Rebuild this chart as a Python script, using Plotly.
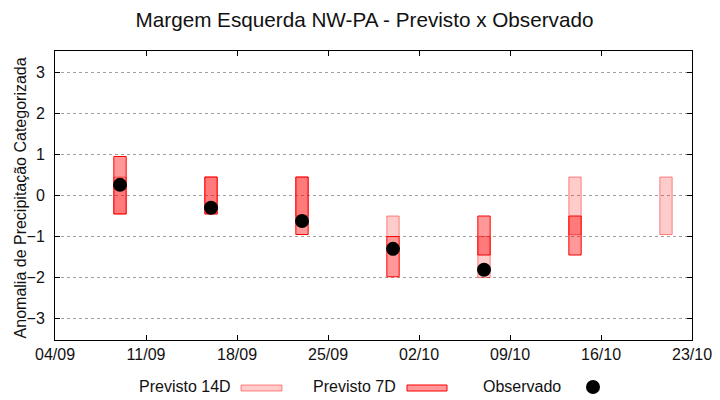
import plotly.graph_objects as go

# ---- data ----
weeks = ["2024-09-09", "2024-09-16", "2024-09-23", "2024-09-30",
         "2024-10-07", "2024-10-14", "2024-10-21"]
prev14_lo = [-0.45, -0.45, -0.50, -1.00, -2.00, -0.95, -0.95]
prev14_hi = [0.45, 0.45, 0.45, -0.50, -1.00, 0.45, 0.45]

prev7_weeks = ["2024-09-09", "2024-09-16", "2024-09-23", "2024-09-30",
               "2024-10-07", "2024-10-14"]
prev7_lo = [-0.45, -0.45, -0.95, -1.98, -1.45, -1.45]
prev7_hi = [0.95, 0.45, 0.45, -1.00, -0.50, -0.50]

obs_weeks = ["2024-09-09", "2024-09-16", "2024-09-23", "2024-09-30", "2024-10-07"]
obs_vals = [0.26, -0.30, -0.62, -1.30, -1.81]

xtick_vals = ["2024-09-04", "2024-09-11", "2024-09-18", "2024-09-25",
              "2024-10-02", "2024-10-09", "2024-10-16", "2024-10-23"]
xtick_text = ["04/09", "11/09", "18/09", "25/09", "02/10", "09/10", "16/10", "23/10"]
ytick_vals = [-3, -2, -1, 0, 1, 2, 3]

DAY_MS = 86400000
FONT = "Liberation Sans, Arial, sans-serif"

fig = go.Figure()

fig.add_trace(go.Bar(
    x=weeks, y=[h - l for h, l in zip(prev14_hi, prev14_lo)], base=prev14_lo,
    width=0.95 * DAY_MS, name="Previsto 14D",
    marker=dict(color="rgba(255,0,0,0.2)", line=dict(color="rgba(255,0,0,0.45)", width=1)),
    showlegend=False,
))
fig.add_trace(go.Bar(
    x=prev7_weeks, y=[h - l for h, l in zip(prev7_hi, prev7_lo)], base=prev7_lo,
    width=0.95 * DAY_MS, name="Previsto 7D",
    marker=dict(color="rgba(255,0,0,0.4)", line=dict(color="rgb(255,0,0)", width=1)),
    showlegend=False,
))
fig.add_trace(go.Scatter(
    x=obs_weeks, y=obs_vals, mode="markers", name="Observado",
    marker=dict(color="black", size=14, line=dict(width=0)),
    showlegend=False,
))

# ---- legend drawn gnuplot-style (text then key) ----
ly = -0.1626
for label, xr in [("Previsto 14D", 0.2800), ("Previsto 7D", 0.5390), ("Observado", 0.7980)]:
    fig.add_annotation(text=label, xref="paper", yref="paper", x=xr, y=ly,
                       xanchor="right", yanchor="middle", showarrow=False,
                       font=dict(family=FONT, size=16, color="#111"))
fig.add_shape(type="rect", xref="paper", yref="paper", x0=0.292, x1=0.3564,
              y0=-0.1765, y1=-0.1557, fillcolor="rgba(255,0,0,0.2)",
              line=dict(color="rgba(255,0,0,0.45)", width=1))
fig.add_shape(type="rect", xref="paper", yref="paper", x0=0.5526, x1=0.6154,
              y0=-0.1765, y1=-0.1557, fillcolor="rgba(255,0,0,0.4)",
              line=dict(color="rgb(255,0,0)", width=1))
fig.add_shape(type="circle", xref="paper", yref="paper",
              xsizemode="pixel", ysizemode="pixel", xanchor=0.8446, yanchor=ly,
              x0=-7, x1=7, y0=-7, y1=7, fillcolor="black", line=dict(width=0))

# y-axis title placed like the reference
fig.add_annotation(text="Anomalia de Precipitação Categorizada", xref="paper", yref="paper",
                   x=-0.0549, y=0.49, xanchor="center", yanchor="middle", textangle=-90,
                   showarrow=False, font=dict(family=FONT, size=16, color="#111"))

fig.update_layout(
    width=720, height=400,
    margin=dict(l=55, r=28, t=51, b=60, autoexpand=False),
    paper_bgcolor="white", plot_bgcolor="white",
    barmode="overlay",
    font=dict(family=FONT, size=16, color="#111"),
    title=dict(text="Margem Esquerda NW-PA - Previsto x Observado",
               x=364.5 / 720, xanchor="center", y=1 - 20 / 400, yanchor="middle",
               font=dict(family=FONT, size=20.7, color="#111")),
    xaxis=dict(type="date", range=["2024-09-04", "2024-10-23"],
               tickvals=xtick_vals, ticktext=xtick_text, automargin=False,
               showgrid=False, zeroline=False,
               showline=True, linecolor="black", linewidth=1, mirror="ticks",
               ticks="inside", ticklen=5, tickcolor="black",
               tickfont=dict(family=FONT, size=16, color="#111")),
    yaxis=dict(range=[-3.52, 3.52], tickvals=ytick_vals, automargin=False,
               showgrid=True, gridcolor="#a0a0a0", griddash="3px,3px", gridwidth=1,
               zeroline=False,
               showline=True, linecolor="black", linewidth=1, mirror="ticks",
               ticks="inside", ticklen=5, tickcolor="black",
               ticklabelstandoff=6,
               tickfont=dict(family=FONT, size=16, color="#111")),
)

fig.write_html("out.html", config={"displayModeBar": False},
               post_script="document.body.style.margin='0';document.body.style.padding='0';")
